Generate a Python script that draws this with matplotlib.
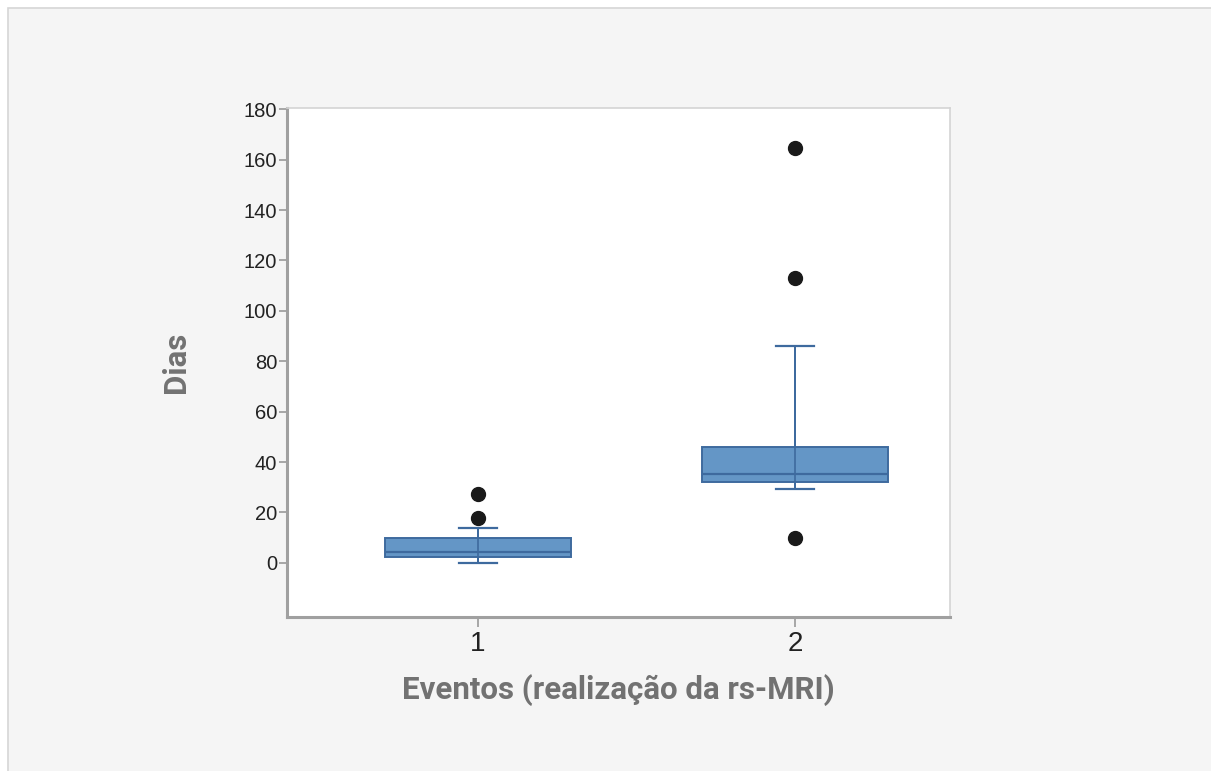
import matplotlib
matplotlib.use("Agg")
import matplotlib.pyplot as plt
from matplotlib.patches import Rectangle

# Data
categories = ["1", "2"]
q1 = [2.4, 32.1]
medians = [4.4, 35.3]
q3 = [9.9, 46.0]
whis_lo = [0.0, 29.4]
whis_hi = [13.9, 86.1]
outliers = [[17.9, 27.4], [9.9, 113.1, 164.7]]
y_ticks = [0, 20, 40, 60, 80, 100, 120, 140, 160, 180]

W, H = 1211, 771
fig = plt.figure(figsize=(W / 100, H / 100), dpi=100)
fig.patch.set_facecolor("white")

# light gray panel
panel = Rectangle((7.5 / W, -0.01), 1.02, 1 - 7.5 / H + 0.01,
                  transform=fig.transFigure, facecolor="#f5f5f5",
                  edgecolor="#d6d6d6", linewidth=1.2, zorder=-10)
fig.add_artist(panel)

ax = fig.add_axes([287 / W, 1 - 617 / H, (950 - 287) / W, (617 - 108) / H])
ax.set_facecolor("white")
ax.set_zorder(1)

stats = []
for i, c in enumerate(categories):
    stats.append(dict(label=c, q1=q1[i], med=medians[i], q3=q3[i],
                      whislo=whis_lo[i], whishi=whis_hi[i], fliers=outliers[i]))

box_face = "#6496c6"
line_col = "#3e6a9e"
ax.bxp(stats, positions=[1, 2], widths=0.585, patch_artist=True,
       boxprops=dict(facecolor=box_face, edgecolor=line_col, linewidth=1.4),
       medianprops=dict(color=line_col, linewidth=1.6),
       whiskerprops=dict(color=line_col, linewidth=1.4),
       capprops=dict(color=line_col, linewidth=1.6),
       capwidths=0.118,
       flierprops=dict(marker="o", markerfacecolor="#1a1a1a",
                       markeredgecolor="#1a1a1a", markersize=10))

# whiskers drawn through the box like reference
for i in range(2):
    ax.plot([i + 1, i + 1], [whis_lo[i], whis_hi[i]], color=line_col,
            linewidth=1.2, zorder=3)

ax.set_xlim(0.397, 2.489)
ax.set_ylim(-21.5, 180.5)
ax.set_yticks(y_ticks)
ax.set_yticklabels([str(v) for v in y_ticks], fontsize=14.5,
                   fontfamily="Liberation Sans", color="#222222")
ax.set_xticks([1, 2])
ax.set_xticklabels(categories, fontsize=20, fontfamily="Liberation Sans",
                   color="#222222")
ax.tick_params(axis="y", length=6, width=1.2, color="#999999", pad=1)
ax.tick_params(axis="x", length=7, width=1.2, color="#999999", pad=3)

for s in ["left", "bottom"]:
    ax.spines[s].set_color("#a0a0a0")
    ax.spines[s].set_linewidth(2.2)
for s in ["top", "right"]:
    ax.spines[s].set_color("#d4d4d4")
    ax.spines[s].set_linewidth(1.2)

ax.set_ylabel("Dias", fontsize=22.5, fontweight="bold", fontfamily="Roboto",
              color="#727272", labelpad=38)
ax.set_xlabel("Eventos (realização da rs-MRI)", fontsize=22.5, fontweight="bold",
              fontfamily="Roboto", color="#727272", labelpad=12)

fig.savefig("out.png", dpi=100)
